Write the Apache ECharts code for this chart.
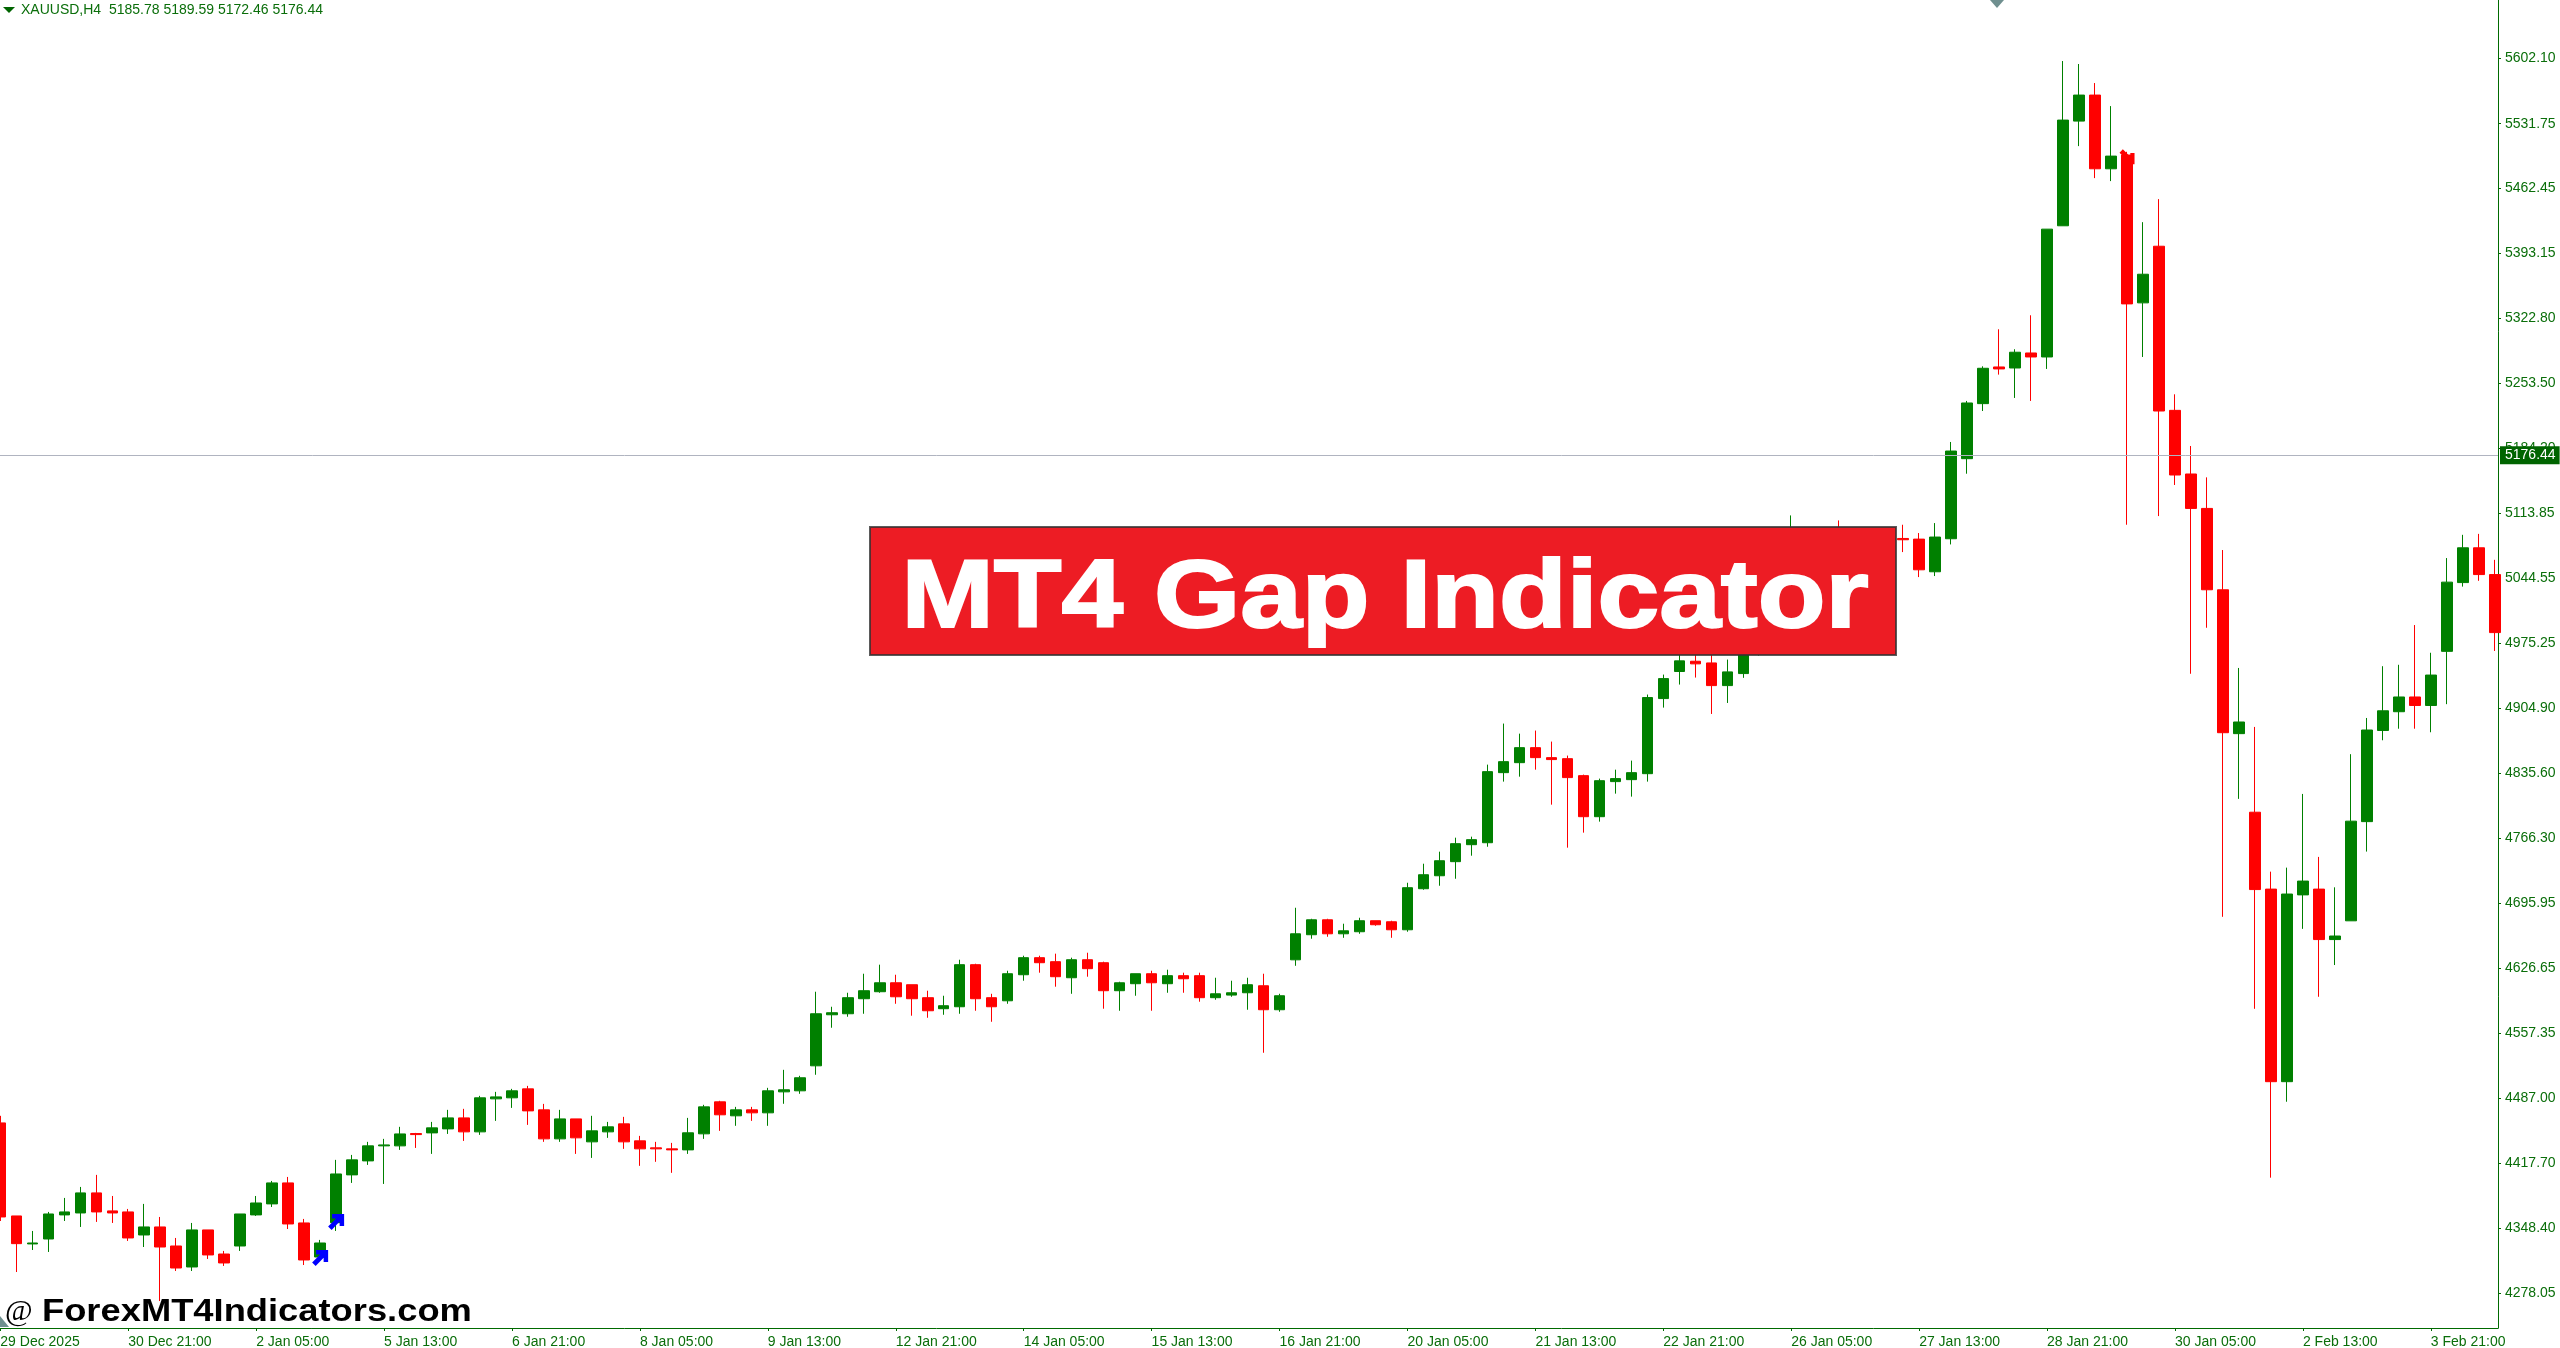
<!DOCTYPE html>
<html>
<head>
<meta charset="utf-8">
<title>XAUUSD,H4</title>
<script src="https://cdn.jsdelivr.net/npm/echarts@6/dist/echarts.min.js"></script>
<style>
html, body { margin: 0; padding: 0; background: #fff; }
#main { width: 2560px; height: 1348px; }
</style>
</head>
<body>
<div id="main"></div>
<script>
// bars, every 4 hours. bars 110-118 sit behind the banner, so they are a guess
var opens = [
    4460.8,4361.1,4331.1,4336.4,4362.2,4364.3,4385.8,4366.5,4365.4,4340.7,
    4349.3,4328.9,4306.4,4346.1,4320.3,4328.9,4362.2,4374.0,4396.5,4353.6,
    4317.1,4353.9,4405.1,4420.1,4436.2,4436.2,4449.4,4450.1,4454.4,4466.2,
    4451.2,4486.6,4487.7,4497.3,4474.8,4443.7,4465.1,4440.5,4451.2,4459.8,
    4441.6,4434.1,4433.0,4431.9,4449.1,4483.4,4468.4,4474.8,4471.6,4494.1,
    4495.2,4522.0,4576.7,4577.8,4593.9,4601.4,4611.0,4608.9,4595.0,4583.2,
    4585.3,4630.4,4595.0,4591.7,4619.6,4637.9,4633.6,4616.4,4635.7,4632.5,
    4602.5,4610.0,4620.7,4610.0,4618.6,4618.6,4595.0,4597.8,4600.3,4607.8,
    4582.1,4635.6,4662.5,4678.5,4663.5,4665.7,4677.5,4676.4,4667.8,4711.8,
    4725.7,4740.8,4759.0,4761.1,4836.2,4846.9,4863.0,4852.3,4851.2,4833.0,
    4789.0,4826.6,4828.7,4835.1,4915.6,4944.6,4955.6,4953.8,4929.5,4942.4,
    4967.1,4986.4,5020.7,5058.3,5042.2,5072.2,5052.9,5076.5,5063.6,5087.2,
    5086.5,5051.5,5086.9,5172.7,5231.7,5271.0,5269.9,5286.0,5281.7,5422.3,
    5534.5,5562.4,5483.4,5498.1,5339.7,5400.4,5224.5,5156.3,5119.4,5032.2,
    4878.0,4793.8,4711.4,4505.0,4705.2,4711.4,4657.3,4677.4,4783.7,4881.4,
    4901.5,4917.3,4908.2,4966.2,5039.9,5077.2,5048.5
];
var closes = [
    4360.0,4331.4,4332.1,4363.2,4365.4,4385.8,4365.4,4364.3,4337.5,4349.3,
    4327.8,4305.3,4346.1,4319.3,4310.7,4363.2,4375.0,4396.5,4352.5,4313.9,
    4332.1,4406.1,4421.2,4436.2,4437.2,4449.0,4448.3,4455.5,4466.2,4451.2,
    4487.7,4488.7,4495.2,4473.7,4443.7,4465.1,4444.8,4452.3,4456.6,4440.5,
    4433.0,4433.0,4431.9,4450.2,4478.0,4469.5,4474.8,4471.6,4495.2,4496.3,
    4509.2,4577.8,4578.9,4595.0,4602.5,4611.0,4596.0,4593.9,4581.0,4586.4,
    4630.4,4593.9,4585.3,4620.7,4637.9,4632.5,4617.5,4635.7,4626.1,4602.5,
    4611.0,4620.7,4611.0,4618.6,4615.3,4595.0,4599.2,4600.3,4608.9,4582.1,
    4597.1,4663.5,4678.5,4663.5,4666.7,4677.5,4673.2,4667.8,4712.9,4726.8,
    4741.8,4760.1,4764.4,4837.3,4848.0,4863.0,4852.3,4850.2,4830.9,4789.0,
    4827.6,4829.8,4836.2,4916.7,4937.0,4956.0,4952.8,4929.5,4944.2,4967.1,
    4988.6,5020.7,5058.3,5042.2,5069.0,5052.9,5074.4,5063.6,5087.2,5085.8,
    5053.6,5088.7,5180.9,5232.4,5269.6,5268.9,5286.8,5281.7,5418.7,5535.6,
    5562.4,5483.4,5497.0,5338.6,5370.4,5223.8,5155.2,5119.4,5032.2,4879.0,
    4890.5,4710.9,4505.0,4706.1,4720.0,4657.3,4661.1,4784.2,4881.9,4902.5,
    4917.3,4908.2,4940.8,5040.4,5077.2,5048.5,4986.3
];
var lows = [
    4355.7,4301.0,4324.6,4322.5,4355.7,4349.3,4354.7,4353.6,4334.3,4327.8,
    4269.9,4302.1,4302.1,4315.0,4307.5,4323.6,4361.1,4370.7,4347.1,4308.5,
    4312.8,4345.0,4396.5,4415.8,4395.4,4431.9,4434.0,4427.6,4449.0,4441.5,
    4448.0,4463.0,4476.9,4458.7,4440.5,4440.5,4427.6,4423.3,4444.8,4433.0,
    4414.8,4419.1,4407.3,4427.6,4443.7,4452.3,4457.7,4463.0,4457.7,4481.3,
    4492.0,4512.4,4562.8,4574.6,4577.8,4600.3,4588.5,4575.7,4573.5,4576.7,
    4577.8,4581.0,4569.2,4588.5,4613.2,4621.8,4606.8,4599.2,4617.5,4583.2,
    4581.0,4597.1,4581.0,4600.3,4600.3,4590.7,4592.8,4596.0,4582.1,4536.0,
    4579.9,4629.2,4658.2,4660.3,4659.2,4663.5,4672.1,4659.2,4665.7,4710.7,
    4715.0,4722.5,4747.2,4756.8,4826.6,4831.9,4839.4,4801.9,4755.8,4771.9,
    4783.7,4813.7,4810.5,4826.6,4905.9,4930.6,4938.1,4899.1,4910.9,4937.8,
    4961.7,4982.1,5015.4,5031.5,5036.8,5047.6,5047.6,5058.3,5058.3,5072.6,
    5045.8,5046.9,5080.8,5156.6,5223.8,5262.8,5237.8,5234.6,5268.9,5422.3,
    5507.7,5473.4,5470.2,5101.9,5281.7,5111.2,5144.5,4942.2,4991.5,4681.7,
    4808.1,4583.1,4402.1,4483.5,4668.8,4596.0,4630.0,4677.4,4751.6,4870.9,
    4883.3,4883.3,4879.5,4909.6,5035.6,5041.8,4966.6
];
var highs = [
    4468.4,4361.1,4345.0,4365.4,4380.4,4392.2,4405.1,4382.5,4368.6,4374.0,
    4360.0,4337.5,4353.6,4346.1,4323.6,4363.2,4382.5,4398.6,4402.9,4357.9,
    4335.4,4421.2,4426.5,4440.5,4443.7,4456.6,4450.1,4461.9,4474.8,4475.9,
    4489.8,4494.1,4497.3,4500.5,4481.2,4474.8,4465.1,4468.4,4461.9,4467.3,
    4446.9,4440.5,4439.4,4466.2,4480.2,4484.5,4478.0,4478.0,4498.4,4517.7,
    4511.3,4601.4,4585.3,4600.3,4620.7,4630.4,4619.6,4608.9,4602.5,4597.1,
    4635.7,4631.4,4599.2,4623.9,4640.0,4640.0,4642.2,4637.9,4643.2,4633.6,
    4612.1,4620.7,4623.9,4625.0,4621.8,4621.8,4616.4,4613.2,4616.4,4620.7,
    4599.2,4691.4,4679.6,4679.6,4674.3,4680.7,4677.5,4677.5,4718.2,4738.6,
    4751.5,4766.5,4767.6,4844.8,4888.8,4878.0,4881.3,4869.5,4854.5,4834.1,
    4829.8,4839.4,4849.1,4919.9,4941.3,4967.1,4966.0,4965.0,4957.4,4972.5,
    4997.1,5031.5,5111.9,5069.0,5079.7,5106.5,5085.1,5090.5,5095.8,5101.9,
    5093.0,5103.7,5190.6,5234.6,5271.7,5311.4,5290.0,5326.4,5418.7,5598.9,
    5595.7,5575.3,5550.6,5501.6,5426.2,5450.9,5241.7,5186.3,5152.7,5074.8,
    4948.4,4885.2,4730.1,4734.4,4813.4,4745.9,4713.3,4856.0,4894.8,4950.3,
    4951.8,4994.4,4964.7,5066.2,5091.1,5092.1,5064.3
];

var priceTicks = [5602.10,5531.75,5462.45,5393.15,5322.80,5253.50,5184.20,5113.85,5044.55,4975.25,
    4904.90,4835.60,4766.30,4695.95,4626.65,4557.35,4487.00,4417.70,4348.40,4278.05];
var timeTicks = [0,8,16,24,32,40,48,56,64,72,80,88,96,104,112,120,128,136,144,152];
var timeLabels = ['29 Dec 2025','30 Dec 21:00','2 Jan 05:00','5 Jan 13:00','6 Jan 21:00','8 Jan 05:00',
    '9 Jan 13:00','12 Jan 21:00','14 Jan 05:00','15 Jan 13:00','16 Jan 21:00','20 Jan 05:00',
    '21 Jan 13:00','22 Jan 21:00','26 Jan 05:00','27 Jan 13:00','28 Jan 21:00','30 Jan 05:00',
    '2 Feb 13:00','3 Feb 21:00'];
var lastPrice = 5176.44;
var headerText = 'XAUUSD,H4  5185.78 5189.59 5172.46 5176.44';

// gap indicator arrows: [bar, price]
var gapUp = [[20, 4316.0], [21, 4354.7]];
var gapDown = [[133, 5496.2]];
var arrowPath = 'path://M25 0L100 0L100 75L72 75L72 48L22 100L0 78L50 28L25 28Z';

var axisGreen = '#006a00';
var textGreen = '#0a6e0a';
var labelFont = '"Liberation Sans"';

var candles = [];
for (var i = 0; i < opens.length; i++) {
    candles.push([i, opens[i], closes[i], lows[i], highs[i]]);
}

var myChart = echarts.init(document.getElementById('main'));

var option = {
    backgroundColor: '#ffffff',
    animation: false,
    grid: { left: 0, top: 0, width: 2498, height: 1328, outerBoundsMode: 'none' },
    xAxis: {
        type: 'value',
        min: -0.02,
        max: 156.2,
        splitLine: { show: false },
        axisLine: { onZero: false, lineStyle: { color: axisGreen, width: 1 } },
        axisTick: { length: 3, customValues: timeTicks, lineStyle: { color: axisGreen } },
        axisLabel: {
            customValues: timeTicks,
            align: 'left',
            margin: 7,
            color: textGreen,
            fontFamily: labelFont,
            fontSize: 14,
            formatter: function (val) {
                return timeLabels[timeTicks.indexOf(val)];
            }
        }
    },
    yAxis: {
        type: 'value',
        position: 'right',
        min: 4241.0,
        max: 5664.3,
        splitLine: { show: false },
        axisLine: { onZero: false, lineStyle: { color: axisGreen, width: 1 } },
        axisTick: { length: 3, customValues: priceTicks, lineStyle: { color: axisGreen } },
        axisLabel: {
            customValues: priceTicks,
            margin: 7,
            padding: [2, 0, 0, 0],
            color: textGreen,
            fontFamily: labelFont,
            fontSize: 14,
            formatter: function (val) {
                return val.toFixed(2);
            }
        }
    },
    series: [
        {
            type: 'candlestick',
            data: candles,
            barWidth: 11,
            itemStyle: {
                color: '#008000',
                color0: '#ff0000',
                borderColor: '#008000',
                borderColor0: '#ff0000',
                borderWidth: 1
            },
            markLine: {
                silent: true,
                animation: false,
                symbol: ['none', 'none'],
                lineStyle: { color: '#b0b4c0', type: 'solid', width: 1 },
                data: [{ yAxis: lastPrice }],
                label: {
                    position: 'end',
                    distance: 2,
                    color: '#ffffff',
                    backgroundColor: '#006400',
                    padding: [3, 4, 1, 5],
                    fontFamily: labelFont,
                    fontSize: 14,
                    formatter: function () {
                        return lastPrice.toFixed(2);
                    }
                }
            }
        },
        {
            type: 'scatter',
            data: gapUp,
            symbol: arrowPath,
            symbolSize: 16,
            itemStyle: { color: '#0000ff', opacity: 1 },
            z: 5
        },
        {
            type: 'scatter',
            data: gapDown,
            symbol: arrowPath,
            symbolSize: 15,
            symbolRotate: -90,
            itemStyle: { color: '#ff0000', opacity: 1 },
            z: 5
        }
    ],
    graphic: [
        // chart window furniture
        { type: 'polygon', shape: { points: [[3, 7], [15, 7], [9, 13]] }, style: { fill: '#006400' }, z: 20 },
        { type: 'text', x: 21, y: 10, style: { text: headerText, font: '14px ' + labelFont, fill: textGreen, verticalAlign: 'middle' }, z: 20 },
        { type: 'polygon', shape: { points: [[1990, 0], [2004, 0], [1997, 8]] }, style: { fill: '#6f8f8f' }, z: 20 },
        { type: 'polygon', shape: { points: [[0, 1316], [9, 1327], [0, 1327]] }, style: { fill: '#6f8f8f' }, z: 20 },
        // banner and watermark
        { type: 'rect', shape: { x: 870, y: 527, width: 1026, height: 128 }, style: { fill: '#ed1c24', stroke: 'rgba(50,50,50,0.8)', lineWidth: 2 }, z: 30 },
        { type: 'text', x: 1385, y: 601, scaleX: 1.155, style: { text: 'MT4 Gap Indicator', font: 'bold 96px "Liberation Sans"', fill: '#ffffff', stroke: '#ffffff', lineWidth: 2, align: 'center', verticalAlign: 'middle' }, z: 31 },
        { type: 'text', x: 5, y: 1312, style: { text: '@', font: '30px "Liberation Serif"', fill: '#000000', verticalAlign: 'middle' }, z: 31 },
        { type: 'text', x: 42, y: 1312, scaleX: 1.135, style: { text: 'ForexMT4Indicators.com', font: 'bold 32px "Liberation Sans"', fill: '#000000', verticalAlign: 'middle' }, z: 31 }
    ]
};
myChart.setOption(option);
</script>
</body>
</html>
